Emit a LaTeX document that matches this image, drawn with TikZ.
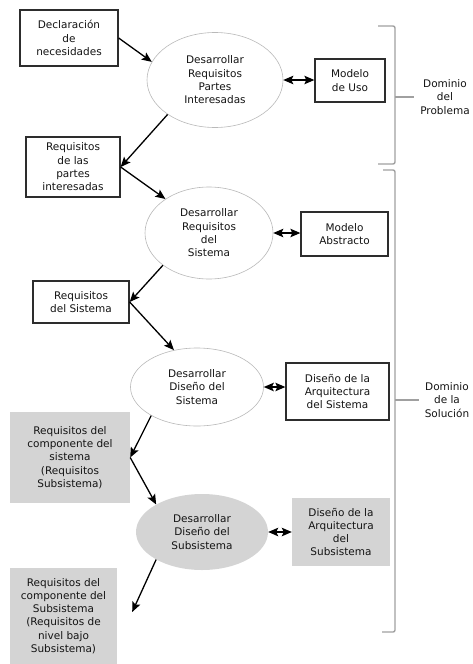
\documentclass[tikz,border=0pt]{standalone}
\usepackage{fontspec}
\setmainfont{DejaVu Sans}
\usetikzlibrary{arrows.meta,positioning,shapes.geometric,calc}
\definecolor{frame}{RGB}{45,45,45}
\definecolor{oval}{RGB}{185,185,185}
\definecolor{shade}{RGB}{212,212,212}
\definecolor{brace}{RGB}{160,160,160}
\definecolor{ink}{RGB}{20,20,20}

\begin{document}
\begin{tikzpicture}[x=1pt,y=-1pt,
  font=\fontsize{10.5}{13.3}\selectfont,text=ink,
  bx/.style={draw=frame,fill=white,line width=1.3pt,align=center,inner sep=2pt},
  gbx/.style={draw=none,fill=shade,align=center,inner sep=2pt},
  ov/.style={ellipse,draw=oval,fill=white,line width=0.6pt,align=center,inner sep=0pt},
  gov/.style={ellipse,draw=none,fill=shade,align=center,inner sep=0pt},
  dom/.style={align=center,inner sep=2pt},
  ar/.style={-{Stealth[length=10pt,width=8.5pt,inset=2pt]},line width=1.3pt,draw=black},
  dar/.style={{Stealth[length=10pt,width=8.5pt,inset=2pt]}-{Stealth[length=10pt,width=8.5pt,inset=2pt]},line width=1.3pt,draw=black},
  brk/.style={draw=brace,line width=1.4pt,rounded corners=2pt}]

\useasboundingbox (0,0) rectangle (473,664);

\node[bx,minimum width=98pt,minimum height=56pt] (decl) at (69,38)
  {Declaración\\de\\necesidades};
\node[ov,minimum width=136pt,minimum height=95pt] (drpi) at (215,80)
  {Desarrollar\\Requisitos\\Partes\\Interesadas};
\node[bx,minimum width=70pt,minimum height=43pt] (uso) at (350,80.5)
  {Modelo\\de Uso};

\node[bx,minimum width=94pt,minimum height=60pt] (rpi) at (73,167)
  {Requisitos\\de las\\partes\\interesadas};
\node[ov,minimum width=128pt,minimum height=92pt] (drs) at (209,233)
  {Desarrollar\\Requisitos\\del\\Sistema};
\node[bx,minimum width=87pt,minimum height=44pt] (abs) at (344.5,234)
  {Modelo\\Abstracto};

\node[bx,minimum width=96pt,minimum height=42pt] (rsis) at (81,302)
  {Requisitos\\del Sistema};
\node[ov,minimum width=133pt,minimum height=78pt] (dds) at (197,387)
  {Desarrollar\\Diseño del\\Sistema};
\node[bx,minimum width=103pt,minimum height=57pt] (arq) at (337.5,391.5)
  {Diseño de la\\Arquitectura\\del Sistema};

\node[gbx,minimum width=120pt,minimum height=91pt] (rcomp) at (70,457.5)
  {Requisitos del\\componente del\\sistema\\(Requisitos\\Subsistema)};
\node[gov,minimum width=132pt,minimum height=76pt] (ddsub) at (202,532)
  {Desarrollar\\Diseño del\\Subsistema};
\node[gbx,minimum width=98pt,minimum height=68pt] (arqsub) at (341,532)
  {Diseño de la\\Arquitectura\\del\\Subsistema};

\node[gbx,minimum width=107pt,minimum height=96pt] (rsub) at (63.5,616)
  {Requisitos del\\componente del\\Subsistema\\(Requisitos de\\nivel bajo\\Subsistema)};
\coordinate (rsubin) at ([xshift=15pt,yshift=4pt]rsub.east);

% flujo
\draw[ar] (decl.east) -- (drpi.164);
\draw[ar] (drpi.216) -- (rpi.east);
\draw[ar] (rpi.east) -- (drs.142);
\draw[ar] (drs.215) -- (rsis.east);
\draw[ar] (rsis.east) -- (dds.122);
\draw[ar] (dds.212) -- (rcomp.east);
\draw[ar] (rcomp.east) -- (ddsub.149);
\draw[ar] (ddsub.211) -- (rsubin);

\draw[dar] (drpi.east) -- (drpi.east -| uso.west);
\draw[dar] (drs.east) -- (drs.east -| abs.west);
\draw[dar] (dds.east) -- (dds.east -| arq.west);
\draw[dar] (ddsub.east) -- (ddsub.east -| arqsub.west);

% dominios
\node[dom] (prob) at (445,97) {Dominio\\del\\Problema};
\node[dom] (sol) at (447,400) {Dominio\\de la\\Solución};
\coordinate (b1) at (395,97);
\coordinate (b2) at (395,400);
\draw[brk] (378,26) -- (395,26) -- (395,164) -- (378,164);
\draw[brk] (383,170) -- (395,170) -- (395,632) -- (382,632);
\draw[draw=brace,line width=1.4pt] (b1) -- ([xshift=-4pt]prob.west);
\draw[draw=brace,line width=1.4pt] (b2) -- ([xshift=-4pt]sol.west);
\end{tikzpicture}
\end{document}
